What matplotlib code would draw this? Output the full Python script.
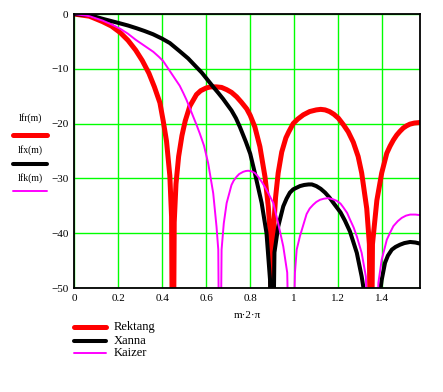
import matplotlib
matplotlib.use('Agg')
import matplotlib.pyplot as plt
from matplotlib.lines import Line2D

# spectra as (x, dB); nulls pushed below the -50 floor
rect_pts = [
    (0.0, 0), (0.07, -0.4), (0.13, -1.4), (0.17, -2.2), (0.21, -3.4),
    (0.245, -4.8), (0.28, -6.6), (0.31, -8.5), (0.34, -10.8), (0.365, -13.3),
    (0.39, -16.2), (0.405, -19.5), (0.42, -23.2), (0.435, -29.5),
    (0.443, -37), (0.449, -80), (0.455, -38), (0.463, -31), (0.475, -26),
    (0.49, -22.2), (0.505, -19.5), (0.526, -16.8), (0.556, -14.7),
    (0.575, -14.0), (0.60, -13.5), (0.62, -13.3), (0.647, -13.3),
    (0.67, -13.4), (0.693, -13.8), (0.715, -14.3), (0.738, -15.1),
    (0.76, -16.1), (0.784, -17.3), (0.80, -18.5), (0.821, -20.6),
    (0.844, -24.2), (0.867, -29.7), (0.882, -35.1), (0.893, -41.5),
    (0.898, -80), (0.905, -40), (0.915, -33.5), (0.927, -29), (0.943, -25.2),
    (0.962, -22.6), (0.975, -21.5), (0.995, -20.0), (1.015, -19.2),
    (1.041, -18.4), (1.07, -17.8), (1.10, -17.5), (1.12, -17.4),
    (1.14, -17.5), (1.16, -17.8), (1.18, -18.3), (1.20, -19.0),
    (1.223, -20.2), (1.245, -21.5), (1.268, -23.4), (1.29, -26),
    (1.306, -29), (1.329, -35.5), (1.341, -42), (1.348, -80), (1.355, -42),
    (1.375, -34), (1.397, -29), (1.42, -25.4), (1.435, -24.1), (1.45, -23),
    (1.465, -22.1), (1.48, -21.4), (1.495, -20.8), (1.51, -20.4),
    (1.525, -20.1), (1.545, -19.9), (1.571, -19.8),
]

hann_pts = [
    (0.0, 0), (0.07, -0.2), (0.132, -0.9), (0.17, -1.3), (0.208, -1.7),
    (0.245, -2.1), (0.284, -2.6), (0.32, -3.1), (0.359, -3.7), (0.40, -4.5),
    (0.435, -5.3), (0.48, -6.8), (0.518, -8.1), (0.556, -9.7), (0.58, -10.7),
    (0.602, -11.8), (0.632, -13.3), (0.655, -14.4), (0.677, -15.5),
    (0.695, -16.5), (0.715, -17.6), (0.735, -19.0), (0.753, -20.6),
    (0.765, -21.8), (0.78, -23.3), (0.80, -25.5), (0.821, -29),
    (0.852, -34.5), (0.874, -40), (0.89, -48.5), (0.898, -80), (0.91, -43.5),
    (0.927, -38.8), (0.94, -36.7), (0.95, -35.1), (0.965, -33.7),
    (0.98, -32.6), (0.995, -32.0), (1.026, -31.4), (1.045, -31.2),
    (1.065, -31.1), (1.08, -31.1), (1.10, -31.4), (1.12, -31.9),
    (1.14, -32.6), (1.16, -33.5), (1.18, -34.6), (1.21, -36.2),
    (1.23, -37.7), (1.253, -39.7), (1.284, -43.6), (1.306, -47.9),
    (1.33, -54), (1.35, -80), (1.375, -55), (1.397, -48.5), (1.412, -45.4),
    (1.425, -44.1), (1.443, -43), (1.46, -42.5), (1.48, -42.1),
    (1.50, -41.8), (1.526, -41.6), (1.55, -41.7), (1.571, -41.9),
]

kaiser_pts = [
    (0.0, 0), (0.07, -0.4), (0.13, -1.2), (0.17, -1.9), (0.21, -2.7),
    (0.245, -3.6), (0.28, -4.7), (0.32, -5.8), (0.36, -6.9), (0.385, -7.8),
    (0.405, -8.6), (0.435, -10.4), (0.455, -11.6), (0.48, -13.1),
    (0.496, -14.4), (0.511, -15.7), (0.526, -17.2), (0.541, -18.7),
    (0.556, -20.2), (0.571, -21.8), (0.59, -24), (0.609, -27.2),
    (0.632, -32.7), (0.647, -38.8), (0.655, -43), (0.662, -80), (0.67, -43),
    (0.68, -38.2), (0.693, -34.5), (0.715, -31.2), (0.725, -30.4),
    (0.738, -29.7), (0.75, -29.2), (0.768, -28.8), (0.78, -28.65),
    (0.791, -28.6), (0.805, -28.7), (0.821, -29), (0.836, -29.7),
    (0.852, -30.6), (0.867, -31.6), (0.882, -32.7), (0.905, -34.5),
    (0.927, -38.2), (0.95, -42.4), (0.968, -47.2), (0.985, -80),
    (1.003, -47.2), (1.011, -43), (1.026, -40.5), (1.041, -38.5),
    (1.056, -36.5), (1.07, -35.5), (1.086, -34.8), (1.10, -34.3),
    (1.117, -33.9), (1.135, -33.7), (1.155, -33.6), (1.175, -33.8),
    (1.193, -34.1), (1.21, -34.6), (1.223, -35.3), (1.24, -36.3),
    (1.253, -37.5), (1.27, -39), (1.284, -40.6), (1.306, -43.6),
    (1.325, -47.9), (1.352, -80), (1.382, -49), (1.397, -44.8),
    (1.41, -42.8), (1.42, -41.2), (1.435, -39.9), (1.45, -38.7),
    (1.47, -37.8), (1.488, -37.2), (1.507, -36.8), (1.526, -36.6),
    (1.55, -36.6), (1.571, -36.7),
]

trace_names = ['lfr(m)', 'lfx(m)', 'lfk(m)']
legend_names = ['Rektang', 'Xanna', 'Kaizer']
colors = ['#ff0000', '#000000', '#ff00ff']
widths = [3.6, 2.9, 1.4]

W, H = 443, 392
fig = plt.figure(figsize=(W / 100, H / 100), dpi=100)
ax = fig.add_axes([74 / W, 1 - 288 / H, 346 / W, 274 / H])

for pts, c, lw in zip([rect_pts, hann_pts, kaiser_pts], colors, widths):
    xs, ys = zip(*pts)
    ax.plot(xs, ys, color=c, lw=lw)

ax.set_xlim(0, 1.5708)
ax.set_ylim(-50, 0)
ax.set_xticks([0, 0.2, 0.4, 0.6, 0.8, 1.0, 1.2, 1.4])
ax.set_xticklabels(['0', '0.2', '0.4', '0.6', '0.8', '1', '1.2', '1.4'])
ax.set_yticks([0, -10, -20, -30, -40, -50])
ax.grid(True, color='#00ff00', lw=1.0)
ax.set_axisbelow(True)
ax.tick_params(length=0, labelsize=8, pad=4)
for lab in ax.get_xticklabels() + ax.get_yticklabels():
    lab.set_family('Liberation Serif')
for s in ax.spines.values():
    s.set_linewidth(1.3)

ax.set_xlabel('m\u00b72\u00b7\u03c0', family='Liberation Serif', fontsize=8,
              labelpad=6)

# trace labels on the left of the plot
label_rows = [118, 150, 178]
line_rows = [135, 164, 191]
for name, c, lw, ty, ly in zip(trace_names, colors, widths, label_rows, line_rows):
    fig.text(30 / W, 1 - ty / H, name, family='Liberation Serif', fontsize=7,
             ha='center', va='center')
    fig.add_artist(Line2D([13 / W, 47 / W], [1 - ly / H, 1 - ly / H],
                          color=c, lw=lw, solid_capstyle='round'))

# legend below the plot
leg_rows = [327, 341, 353]
for name, c, lw, ry in zip(legend_names, colors, widths, leg_rows):
    fig.add_artist(Line2D([74 / W, 106 / W], [1 - ry / H, 1 - ry / H],
                          color=c, lw=lw, solid_capstyle='round'))
    fig.text(114 / W, 1 - ry / H, name, family='Liberation Serif', fontsize=9,
             ha='left', va='center')

fig.savefig('out.png', dpi=100)
